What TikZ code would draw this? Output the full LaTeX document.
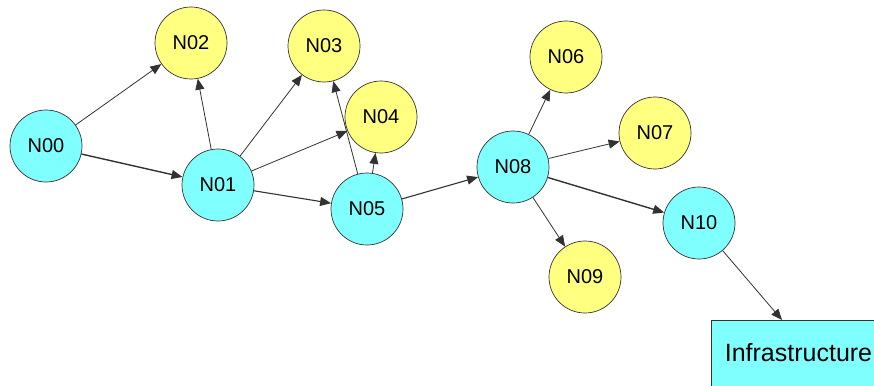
\documentclass[tikz,border=0pt]{standalone}
\usepackage{fontspec}
\setmainfont{Liberation Sans}
\usetikzlibrary{arrows.meta}
\definecolor{cyanfill}{RGB}{128,255,255}
\definecolor{yellowfill}{RGB}{255,255,128}
\definecolor{edgegray}{RGB}{50,50,50}
\tikzset{
  nodebase/.style={circle,draw=edgegray,line width=0.7pt,minimum size=72pt,inner sep=0pt,
    font=\fontsize{20}{21}\selectfont},
  cnode/.style={nodebase,fill=cyanfill},
  ynode/.style={nodebase,fill=yellowfill},
  edge/.style={draw=edgegray,line width=0.8pt,-{Triangle[length=11pt,width=9pt]}},
  thickedge/.style={edge,line width=1.4pt,-{Triangle[length=11pt,width=9pt]}},
  infbox/.style={rectangle,draw=edgegray,line width=0.7pt,fill=cyanfill,
    minimum width=175pt,minimum height=66pt,inner sep=0pt,
    font=\fontsize{25}{26}\selectfont}
}
\begin{document}
\begin{tikzpicture}[x=1pt,y=-1pt]
\useasboundingbox (0,0) rectangle (874,385);
\clip (0,0) rectangle (874,385);
\node[cnode] (n00) at (46,146) {N00};
\node[cnode] (n01) at (218,185) {N01};
\node[ynode] (n02) at (191,43) {N02};
\node[ynode] (n03) at (324,46) {N03};
\node[ynode] (n04) at (381,117) {N04};
\node[cnode] (n05) at (367,209) {N05};
\node[ynode] (n06) at (566,57) {N06};
\node[ynode] (n07) at (655,133) {N07};
\node[cnode] (n08) at (513,167) {N08};
\node[ynode] (n09) at (585,277) {N09};
\node[cnode] (n10) at (699,223) {N10};
\node[infbox] (inf) at (798.5,353) {Infrastructure};
\coordinate (infin) at (782,320);
\draw[edge] (n00) -- (n02);
\draw[thickedge] (n00) -- (n01);
\draw[edge] (n01) -- (n02);
\draw[edge] (n01) -- (n03);
\draw[edge] (n01) -- (n04);
\draw[edge,line width=1.1pt] (n01) -- (n05);
\draw[edge] (n05) -- (n03);
\draw[edge] (n05) -- (n04);
\draw[edge,line width=1.1pt] (n05) -- (n08);
\draw[edge] (n08) -- (n06);
\draw[edge] (n08) -- (n07);
\draw[edge] (n08) -- (n09);
\draw[thickedge] (n08) -- (n10);
\draw[edge] (n10) -- (infin);
\end{tikzpicture}
\end{document}
